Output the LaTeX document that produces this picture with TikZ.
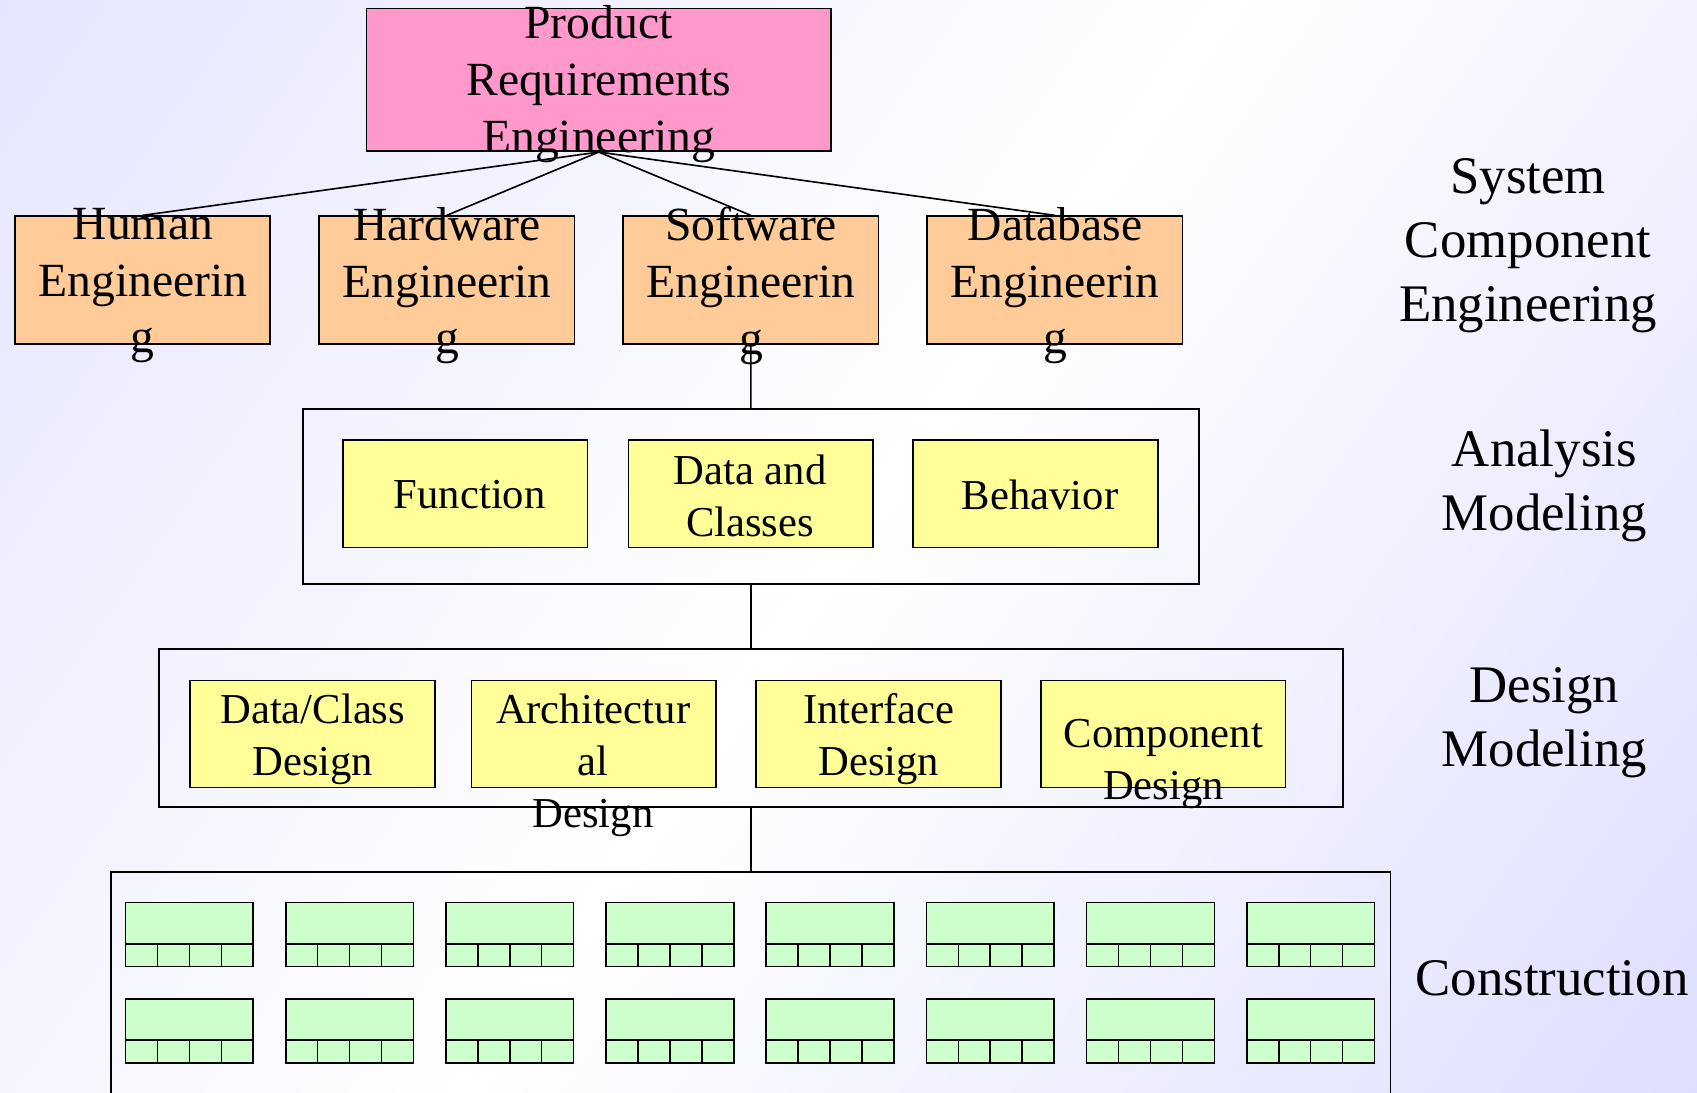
\documentclass[tikz,border=0pt]{standalone}
\usepackage{fontspec}
\setmainfont{Liberation Serif}
\definecolor{bgA}{RGB}{218,218,255}
\definecolor{bgB}{RGB}{208,208,255}
\definecolor{pinkF}{HTML}{FF99CC}
\definecolor{orangeF}{HTML}{FFCC99}
\definecolor{yellowF}{HTML}{FFFF99}
\definecolor{greenF}{HTML}{CCFFCC}
\pgfdeclarehorizontalshading{bgshade}{100bp}{color(0bp)=(bgA); color(50bp)=(white); color(100bp)=(bgB)}
\tikzset{
  box/.style={draw=black, line width=1.5pt, inner sep=0pt, anchor=north west},
  frame/.style={draw=black, line width=1.6pt, inner sep=0pt, anchor=north west},
  big/.style={align=center, inner sep=0pt, font=\fontsize{44}{52.5}\selectfont},
  mid/.style={align=center, inner sep=0pt, font=\fontsize{39.4}{48}\selectfont},
  side/.style={align=center, inner sep=0pt, font=\fontsize{48.8}{59}\selectfont},
  conn/.style={draw=black, line width=1.5pt},
  cell/.style={draw=black, line width=1.5pt, fill=greenF}
}
\begin{document}
\begin{tikzpicture}[x=1pt,y=-1pt]
\useasboundingbox (0,0) rectangle (1568,1009);
\shade[shading=bgshade, shading angle=-35] (0,0) rectangle (1568,1009);
\clip (0,0) rectangle (1568,1009);

% top box
\node[box, fill=pinkF, minimum width=429, minimum height=132] (pre) at (338,7) {};
% system component boxes
\node[box, fill=orangeF, minimum width=236, minimum height=118] (hum) at (13,199) {};
\node[box, fill=orangeF, minimum width=236, minimum height=118] (hw) at (294,199) {};
\node[box, fill=orangeF, minimum width=236, minimum height=118] (sw) at (575,199) {};
\node[box, fill=orangeF, minimum width=236, minimum height=118] (db) at (856,199) {};

\draw[conn] (pre.south) -- (hum.north);
\draw[conn] (pre.south) -- (hw.north);
\draw[conn] (pre.south) -- (sw.north);
\draw[conn] (pre.south) -- (db.north);

% analysis
\node[frame, minimum width=828, minimum height=162] (ana) at (279,377) {};
\node[box, fill=yellowF, minimum width=226, minimum height=99] (fun) at (316,406) {};
\node[box, fill=yellowF, minimum width=226, minimum height=99] (dat) at (580,406) {};
\node[box, fill=yellowF, minimum width=226, minimum height=99] (beh) at (843,406) {};

% design
\node[frame, minimum width=1094, minimum height=146] (des) at (146,599) {};
\node[box, fill=yellowF, minimum width=226, minimum height=99] (dcd) at (175,628) {};
\node[box, fill=yellowF, minimum width=226, minimum height=99] (arc) at (435,628) {};
\node[box, fill=yellowF, minimum width=226, minimum height=99] (ifd) at (698,628) {};
\node[box, fill=yellowF, minimum width=226, minimum height=99] (cmp) at (961,628) {};

% construction
\node[frame, minimum width=1182, minimum height=240] (con) at (102,805) {};

\draw[conn] (sw.south) -- (ana.north);
\draw[conn] (ana.south) -- (des.north);
\draw[conn] (des.south) -- (con.north);

% modules
\foreach \i in {0,...,7}{
  \foreach \j/\yy in {0/834,1/923}{
    \pgfmathsetmacro{\xx}{116+148*\i}
    \coordinate (m-\i-\j) at (\xx,\yy);
    \draw[cell] (m-\i-\j) rectangle ++(118,38);
    \draw[cell] ([yshift=-38pt]m-\i-\j) rectangle ++(118,21);
    \foreach \k in {1,2,3}{
      \draw[line width=1.5pt] ([xshift={29.5pt*\k}, yshift=-38pt]m-\i-\j) -- ++(0,21);
    }
  }
}

% texts
\node[big] (preT) at (553,78) {Product\\Requirements\\Engineering};
\node[big] (humT) at (132,264) {Human\\Engineerin\\g};
\node[big] (hwT) at (413,264) {Hardware\\Engineerin\\g};
\node[big] (swT) at (694,264) {Software\\Engineerin\\g};
\node[big] (dbT) at (975,264) {Database\\Engineerin\\g};

\node[mid] (funT) at (434,457) {Function};
\node[mid] (datT) at (693,458) {Data and\\Classes};
\node[mid] (behT) at (961,457) {Behavior};

\node[mid] (dcdT) at (289,683) {Data/Class\\Design};
\node[mid] (arcT) at (548,707) {Architectur\\al\\Design};
\node[mid] (ifdT) at (812,683) {Interface\\Design};
\node[mid] (cmpT) at (1075,706) {Component\\Design};

\node[side] (s1) at (1412,227) {System\\Component\\Engineering};
\node[side] (s2) at (1427,449) {Analysis\\Modeling};
\node[side] (s3) at (1427,668) {Design\\Modeling};
\node[side] (s4) at (1434,904) {Construction};
\end{tikzpicture}
\end{document}
